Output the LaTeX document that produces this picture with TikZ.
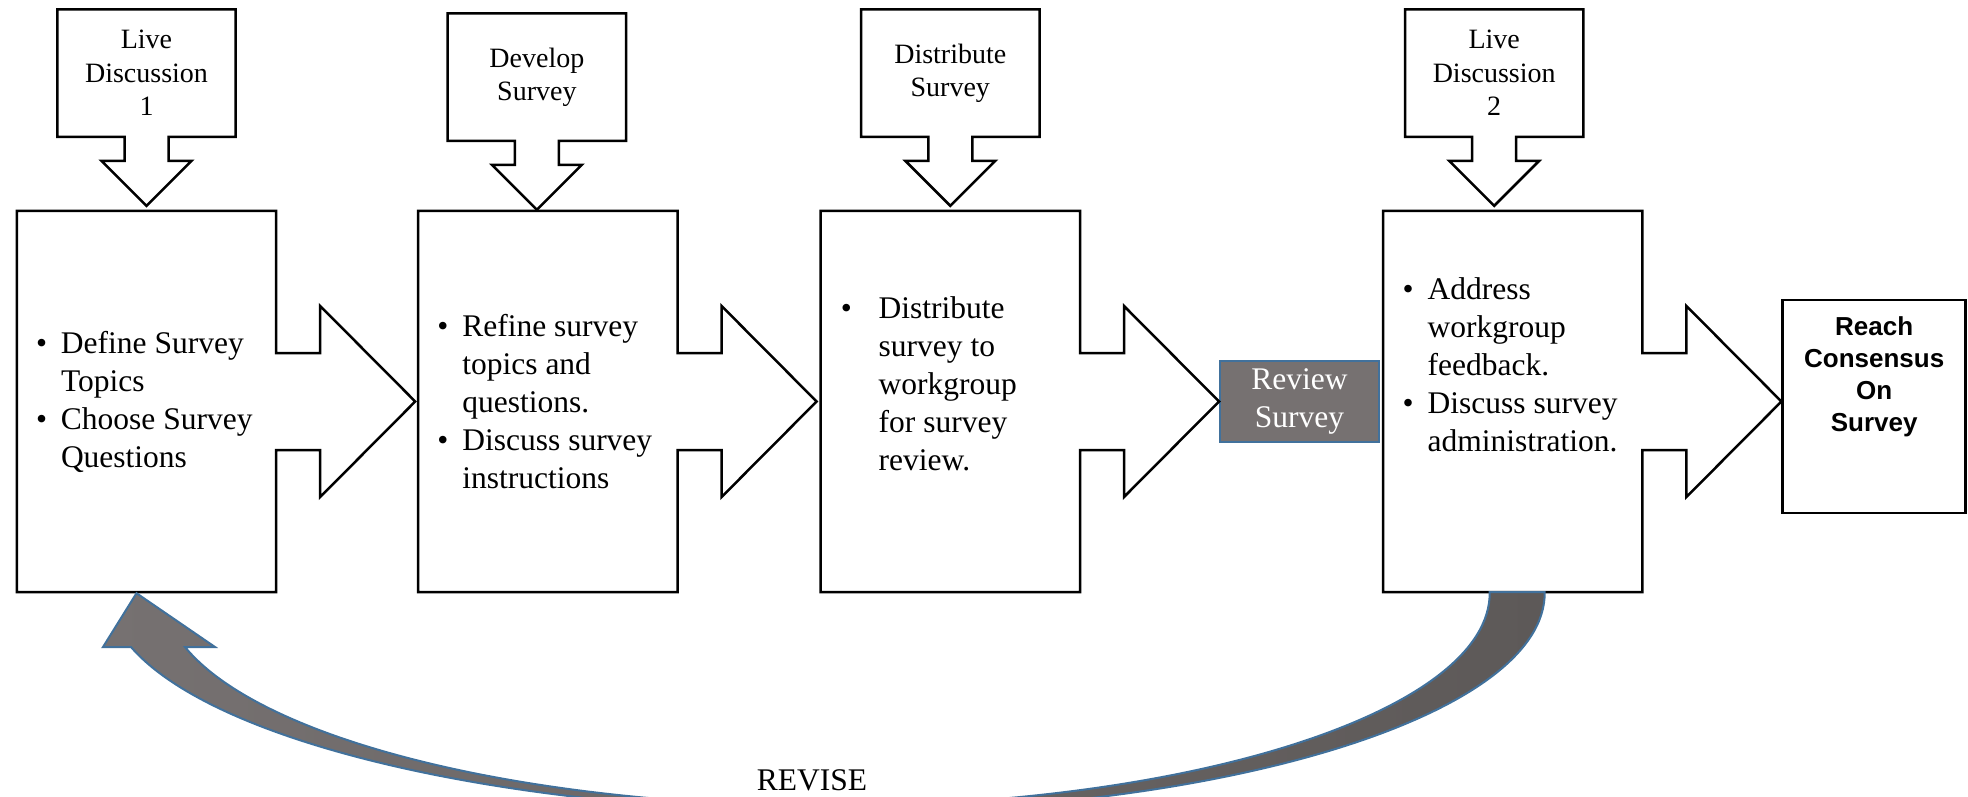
\documentclass[tikz,border=0pt]{standalone}
\usepackage{fontspec}
\setmainfont{Liberation Serif}
\setsansfont{Liberation Sans}
\usepackage{xcolor}
\usepackage{tikz}
\definecolor{revgray}{HTML}{767171}
\definecolor{revblue}{HTML}{41719C}
\definecolor{bandgray}{HTML}{5D5958}
\newcommand{\toptext}{\fontsize{28}{33.5}\selectfont}
\newcommand{\stagetext}{\fontsize{31.5}{38}\selectfont}
\newcommand{\goaltext}{\sffamily\bfseries\fontsize{26}{32}\selectfont}
\newcommand{\bitem}[1][25pt]{\makebox[#1][l]{\textbullet}}
\newcommand{\bskip}[1][25pt]{\hspace*{#1}}
\tikzstyle{topbox} = [rectangle, minimum width=178pt, minimum height=127pt,
    align=center, font=\toptext]
\tikzstyle{stage} = [rectangle, minimum width=259pt, minimum height=381pt]
\tikzstyle{bullets} = [anchor=west, align=left, inner sep=0pt, font=\stagetext]
\tikzstyle{review} = [rectangle, draw=revblue, fill=revgray, line width=2pt, text=white,
    align=center, inner sep=2pt, minimum width=159pt, minimum height=81pt, font=\stagetext]
\tikzstyle{goal} = [rectangle, draw, line width=2.5pt, minimum width=183pt, minimum height=213pt]
\tikzstyle{outline} = [draw, line width=2.5pt]
\tikzstyle{band} = [draw=revblue, line width=2pt, left color=revgray, right color=bandgray]
\usetikzlibrary{calc}
\usetikzlibrary{positioning}

\begin{document}
\begin{tikzpicture}[x=1pt, y=-1pt]
    \useasboundingbox (0,0) rectangle (1968,797);

    \node[stage] (s1) at (146.5,401.5) {};
    \node[stage, right=142pt of s1] (s2) {};
    \node[stage, right=143pt of s2] (s3) {};
    \node[review, right=139pt of s3] (rev) {Review\\Survey};
    \node[stage, right=3pt of rev] (s4) {};
    \node[goal, right=139pt of s4, yshift=-5pt] (goal) {};

    \node[topbox, above=74pt of s1] (t1) {Live\\Discussion\\1};
    \node[topbox, above=70pt of s2, xshift=-11pt] (t2) {Develop\\Survey};
    \node[topbox, above=74pt of s3] (t3) {Distribute\\Survey};
    \node[topbox, above=74pt of s4, xshift=-18.5pt] (t4) {Live\\Discussion\\2};

    % down arrows out of the discussion boxes
    \foreach \t in {t1,t2,t3,t4}
        \draw[outline] (\t.south west) -- (\t.north west) -- (\t.north east) -- (\t.south east)
            -- ($(\t.south)+(22,0)$) -- ++(0,24) -- ++(23,0) -- ($(\t.south)+(0,69)$)
            -- ++(-45,-45) -- ++(23,0) -- ++(0,-24) -- cycle;

    % right arrows out of the stages
    \foreach \s in {s1,s2,s3,s4}
        \draw[outline] ($(\s.east)+(0,-48.5)$) -- ++(44,0) -- ++(0,-47) -- ($(\s.east)+(139,0)$)
            -- ($(\s.east)+(44,95.5)$) -- ++(0,-47) -- ($(\s.east)+(0,48.5)$)
            -- (\s.south east) -- (\s.south west) -- (\s.north west) -- (\s.north east) -- cycle;

    \node[bullets] (s1txt) at ([xshift=19pt]s1.west)
        {\bitem Define Survey\\\bskip Topics\\\bitem Choose Survey\\\bskip Questions};
    \node[bullets] (s2txt) at ([xshift=19pt]s2.west)
        {\bitem Refine survey\\\bskip topics and\\\bskip questions.\\\bitem Discuss survey\\\bskip instructions};
    \node[bullets, yshift=17.5pt] (s3txt) at ([xshift=20pt]s3.west)
        {\bitem[30pt] Distribute\\\bskip[30pt] survey to\\\bskip[30pt] workgroup\\\bskip[30pt] for survey\\\bskip[30pt] review.};
    \node[bullets, yshift=37pt] (s4txt) at ([xshift=19.5pt]s4.west)
        {\bitem Address\\\bskip workgroup\\\bskip feedback.\\\bitem Discuss survey\\\bskip administration.};

    \node[font=\goaltext, align=center] (goaltxt) at ([yshift=30pt]goal.center)
        {Reach\\Consensus\\On\\Survey};

    % revise: back from the last stage to the first
    \draw[band] ($(s4.south)+(-23,0)$) .. controls (1491,710) and (1195,806) .. (830,806)
        .. controls (527,806) and (262,741) .. (185,647) -- (215,647)
        -- ($(s1.south)+(-10,1)$) -- (103,647) -- (131,647)
        .. controls (215,744) and (508,812) .. (845,812)
        .. controls (1232,812) and (1546,713) .. ($(s4.south)+(32,0)$) -- cycle;
    \node[font=\stagetext] (revise) at (812,780) {REVISE};
\end{tikzpicture}
\end{document}
